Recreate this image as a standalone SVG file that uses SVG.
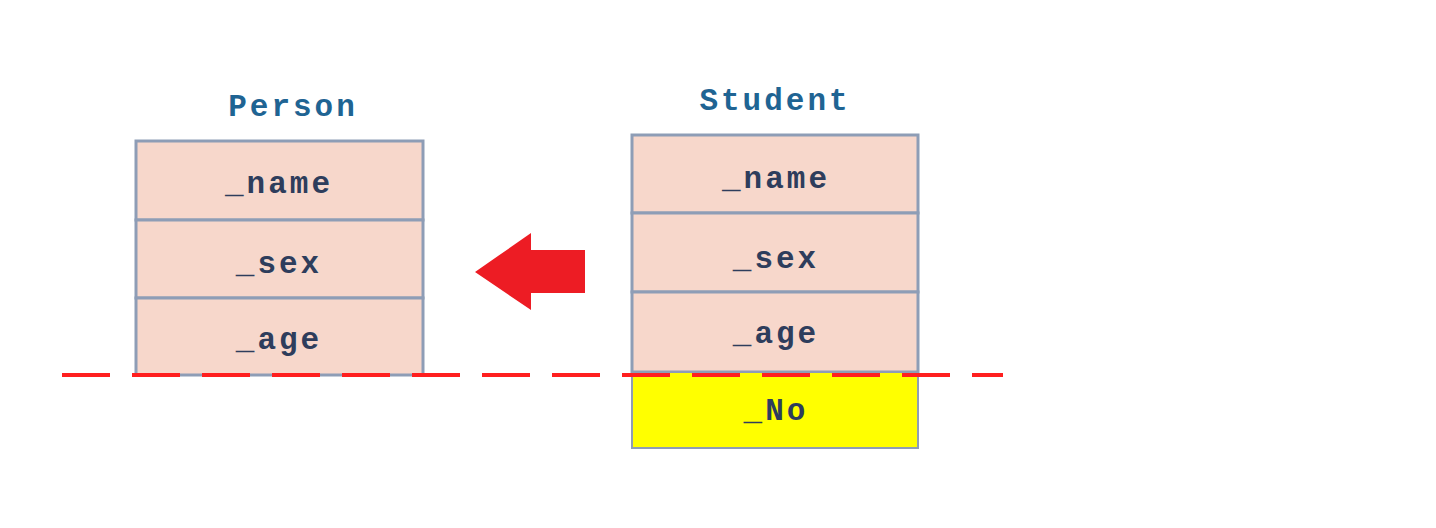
<svg xmlns="http://www.w3.org/2000/svg" width="1436" height="528" viewBox="0 0 1436 528">
<style>
.cell{fill:#F7D7CB;stroke:#8E9DB6;stroke-width:3}
.new{fill:#FFFF00;stroke:#8E9DB6;stroke-width:2}
.title{font-family:"Liberation Mono",monospace;font-weight:bold;font-size:31px;letter-spacing:3px;fill:#1F6493;text-anchor:middle}
.fld{font-family:"Liberation Mono",monospace;font-weight:bold;font-size:31px;letter-spacing:3px;fill:#2E3D5C;text-anchor:middle}
</style>
<rect width="1436" height="528" fill="#ffffff"/>
<g id="person">
<text class="title" x="293" y="116">Person</text>
<rect class="cell" x="136" y="141" width="287" height="79"/>
<rect class="cell" x="136" y="220" width="287" height="78"/>
<rect class="cell" x="136" y="298" width="287" height="77"/>
<text class="fld" x="279" y="193">_name</text>
<text class="fld" x="279" y="273">_sex</text>
<text class="fld" x="279" y="349">_age</text>
</g>
<g id="student">
<text class="title" x="775" y="110">Student</text>
<rect class="cell" x="632" y="135" width="286" height="78"/>
<rect class="cell" x="632" y="213" width="286" height="79"/>
<rect class="cell" x="632" y="292" width="286" height="80"/>
<rect class="new" x="632" y="372" width="286" height="76"/>
<text class="fld" x="776" y="188">_name</text>
<text class="fld" x="776" y="268">_sex</text>
<text class="fld" x="776" y="343">_age</text>
<text class="fld" x="776" y="420">_No</text>
</g>
<g id="connectors">
<polygon points="475,272 531,233 531,250 585,250 585,293 531,293 531,310" fill="#ED1C24"/>
<line x1="62" y1="375" x2="1003" y2="375" stroke="#FF1F1F" stroke-width="4" stroke-dasharray="48 22"/>
</g>
</svg>
